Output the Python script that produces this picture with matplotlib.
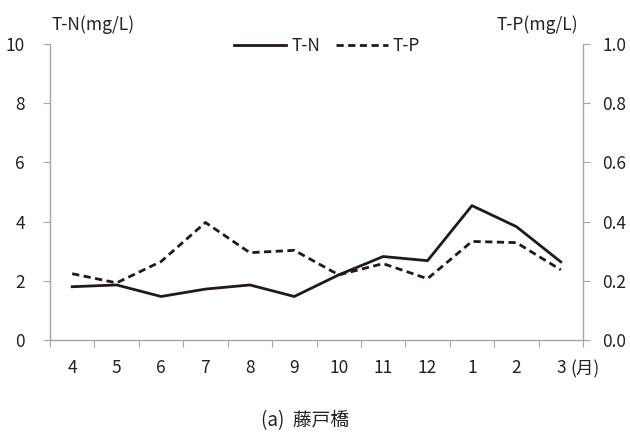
import matplotlib
matplotlib.use("Agg")
import matplotlib.pyplot as plt
from matplotlib.ticker import FixedLocator, NullFormatter, FixedFormatter

plt.rcParams['font.family'] = ['Noto Sans CJK JP', 'DejaVu Sans']

months = ['4', '5', '6', '7', '8', '9', '10', '11', '12', '1', '2', '3']
tn = [1.80, 1.86, 1.47, 1.72, 1.86, 1.47, 2.20, 2.82, 2.68, 4.54, 3.83, 2.64]
tp = [0.224, 0.193, 0.265, 0.397, 0.295, 0.303, 0.220, 0.258, 0.207, 0.333, 0.329, 0.237]
left_ticks = [0, 2, 4, 6, 8, 10]
right_ticks = [0.0, 0.2, 0.4, 0.6, 0.8, 1.0]

ink = '#231815'
gray = '#a6a6a6'
tc = '#222222'
fs = 12.5

fig = plt.figure(figsize=(6.3, 4.32), dpi=100)
ax = fig.add_axes([50/630, 92/432, 533/630, 296/432])
ax2 = ax.twinx()

x = list(range(len(months)))
l1, = ax.plot(x, tn, color=ink, lw=2.0, label='T-N')
l2, = ax2.plot(x, tp, color=ink, lw=2.0, ls=(0, (2.6, 1.6)), label='T-P')

ax.set_xlim(-0.5, 11.5)
ax.set_ylim(0, 10)
ax2.set_ylim(0, 1.0)

for a in (ax, ax2):
    for s in a.spines.values():
        s.set_visible(False)
ax.spines['left'].set_visible(True)
ax.spines['bottom'].set_visible(True)
ax2.spines['right'].set_visible(True)
for s in (ax.spines['left'], ax.spines['bottom'], ax2.spines['right']):
    s.set_color(gray)
    s.set_linewidth(1.0)

ax.set_yticks(left_ticks)
ax.set_yticklabels([str(t) for t in left_ticks])
ax2.set_yticks(right_ticks)
ax2.set_yticklabels([f'{t:.1f}' for t in right_ticks])

ax.xaxis.set_major_locator(FixedLocator([i - 0.5 for i in range(len(months) + 1)]))
ax.xaxis.set_major_formatter(NullFormatter())
ax.xaxis.set_minor_locator(FixedLocator(x))
ax.xaxis.set_minor_formatter(FixedFormatter(months))
ax.tick_params(axis='x', which='major', length=5, color=gray, direction='out')
ax.tick_params(axis='x', which='minor', length=0, pad=14, labelsize=fs, labelcolor=tc)
ax.tick_params(axis='y', length=5, color=gray, pad=13, labelsize=fs, labelcolor=tc)
ax2.tick_params(axis='y', length=5, color=gray, pad=9, labelsize=fs, labelcolor=tc)

fig.text(52/630, 1 - 25/432, 'T-N(mg/L)', fontsize=fs, color=tc, ha='left', va='center')
fig.text(578/630, 1 - 25/432, 'T-P(mg/L)', fontsize=fs, color=tc, ha='right', va='center')
fig.text(570/630, 1 - 369/432, '(月)', fontsize=fs, color=tc, ha='left', va='center')
fig.text(305/630, 1 - 421/432, '(a)  藤戸橋', fontsize=13.5, color=tc, ha='center', va='center')

leg = ax.legend(handles=[l1, l2], loc='center', bbox_to_anchor=(327/630, 1 - 46/432),
                bbox_transform=fig.transFigure, ncol=2, frameon=False, fontsize=fs,
                handlelength=3.0, handletextpad=0.3, columnspacing=0.9)
for t in leg.get_texts():
    t.set_color(tc)

fig.savefig('out.png', dpi=100)
